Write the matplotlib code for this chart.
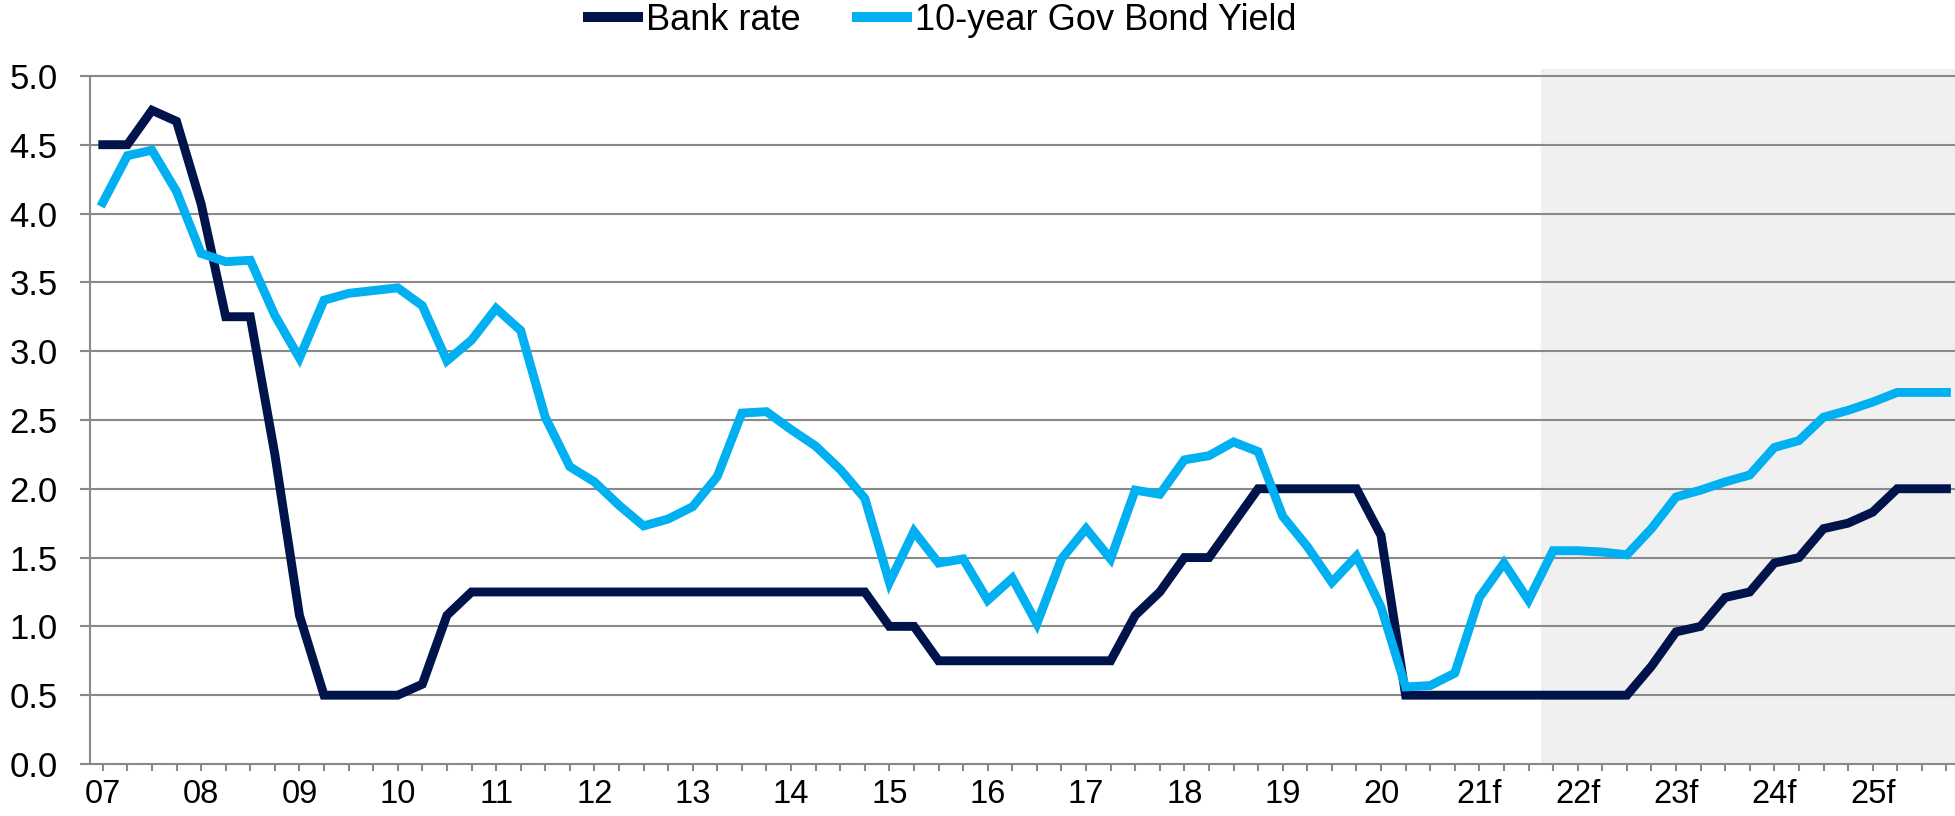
import matplotlib
matplotlib.use("Agg")
import matplotlib.pyplot as plt
from matplotlib.lines import Line2D

plt.rcParams['font.family'] = ['Liberation Sans', 'DejaVu Sans']

# Quarterly series, 2007 Q1 .. 2025 Q4
year_labels = ['07', '08', '09', '10', '11', '12', '13', '14', '15', '16',
               '17', '18', '19', '20', '21f', '22f', '23f', '24f', '25f']

bank_rate = [4.5, 4.5, 4.75, 4.67, 4.07, 3.25, 3.25, 2.25, 1.08, 0.5,
             0.5, 0.5, 0.5, 0.58, 1.08, 1.25,
             1.25, 1.25, 1.25, 1.25, 1.25, 1.25, 1.25, 1.25,
             1.25, 1.25, 1.25, 1.25, 1.25, 1.25, 1.25, 1.25,
             1.0, 1.0,
             0.75, 0.75, 0.75, 0.75, 0.75, 0.75, 0.75, 0.75,
             1.08, 1.25, 1.5, 1.5, 1.75, 2.0, 2.0, 2.0, 2.0, 2.0, 1.66,
             0.5, 0.5, 0.5, 0.5, 0.5, 0.5, 0.5, 0.5, 0.5, 0.5,
             0.71, 0.96, 1.0, 1.21, 1.25, 1.46, 1.5, 1.71, 1.75, 1.83,
             2.0, 2.0, 2.0]

bond_yield = [4.08, 4.42, 4.46, 4.16, 3.71, 3.65, 3.66, 3.26, 2.95, 3.37,
              3.42, 3.44, 3.46, 3.33, 2.93, 3.08, 3.31, 3.15, 2.52, 2.16,
              2.05, 1.88, 1.73, 1.78, 1.87, 2.09, 2.55, 2.56, 2.43, 2.31,
              2.14, 1.93, 1.32, 1.69, 1.46, 1.49, 1.19, 1.35, 1.02, 1.49,
              1.71, 1.49, 1.99, 1.96, 2.21, 2.24, 2.34, 2.27, 1.80, 1.58,
              1.32, 1.51, 1.14, 0.56, 0.57, 0.66, 1.21, 1.46, 1.19, 1.55,
              1.55, 1.54, 1.52, 1.71, 1.94, 1.99, 2.05, 2.10, 2.30, 2.35,
              2.52, 2.57, 2.63, 2.70, 2.70, 2.70]

forecast_start = 58.5  # shaded forecast period begins late 2021

navy = '#00144B'
cyan = '#00B0F0'
grid_gray = '#898989'

W, H = 1956, 816
fig = plt.figure(figsize=(W / 100, H / 100), dpi=100)
left_px, right_px = 90, 1956
bottom_px, top_px = 764, 69
ax = fig.add_axes([left_px / W, (H - bottom_px) / H,
                   (right_px - left_px) / W, (bottom_px - top_px) / H])

n = len(bank_rate)
x = list(range(n))

ax.set_xlim(-0.52, 75.39)
ax.set_ylim(0, 5.05)

# forecast shading
ax.axvspan(forecast_start, 75.39, ymin=0, ymax=1, color='#F0F0F0', lw=0, zorder=0)

# horizontal gridlines
yt = [i * 0.5 for i in range(11)]
for v in yt[1:]:
    ax.axhline(v, color=grid_gray, lw=1.5, zorder=1)

ax.plot(x, bank_rate, color=navy, lw=6.4, solid_capstyle='projecting',
        solid_joinstyle='miter', zorder=3)
ax.plot(x, bond_yield, color=cyan, lw=6.4, solid_capstyle='projecting',
        solid_joinstyle='miter', zorder=3)

for s in ['top', 'right']:
    ax.spines[s].set_visible(False)
for s in ['left', 'bottom']:
    ax.spines[s].set_color(grid_gray)
    ax.spines[s].set_linewidth(1.5)
    ax.spines[s].set_zorder(2)
ax.spines['left'].set_bounds(0, 5.0)

ax.set_yticks(yt)
ax.set_yticklabels([f'{v:.1f}' for v in yt])
xlabels = [''] * n
for k, lab in enumerate(year_labels):
    xlabels[4 * k] = lab
ax.set_xticks(x)
ax.set_xticklabels(xlabels)

ax.tick_params(axis='y', direction='out', length=7.2, width=1.5, color=grid_gray,
               labelsize=25, pad=16, labelcolor='black')
ax.tick_params(axis='x', direction='out', length=4.8, width=1.5, color=grid_gray,
               labelsize=23.5, pad=6, labelcolor='black')

handles = [Line2D([], [], color=navy, lw=7.2, solid_capstyle='butt'),
           Line2D([], [], color=cyan, lw=7.2, solid_capstyle='butt')]
fig.legend(handles, ['Bank rate', '10-year Gov Bond Yield'],
           loc='center left', bbox_to_anchor=(583 / W, 1 - 20 / H),
           ncol=2, frameon=False, fontsize=26, borderpad=0, borderaxespad=0,
           handlelength=1.66, handletextpad=0.08, columnspacing=1.43)

fig.savefig('out.png', dpi=100)
